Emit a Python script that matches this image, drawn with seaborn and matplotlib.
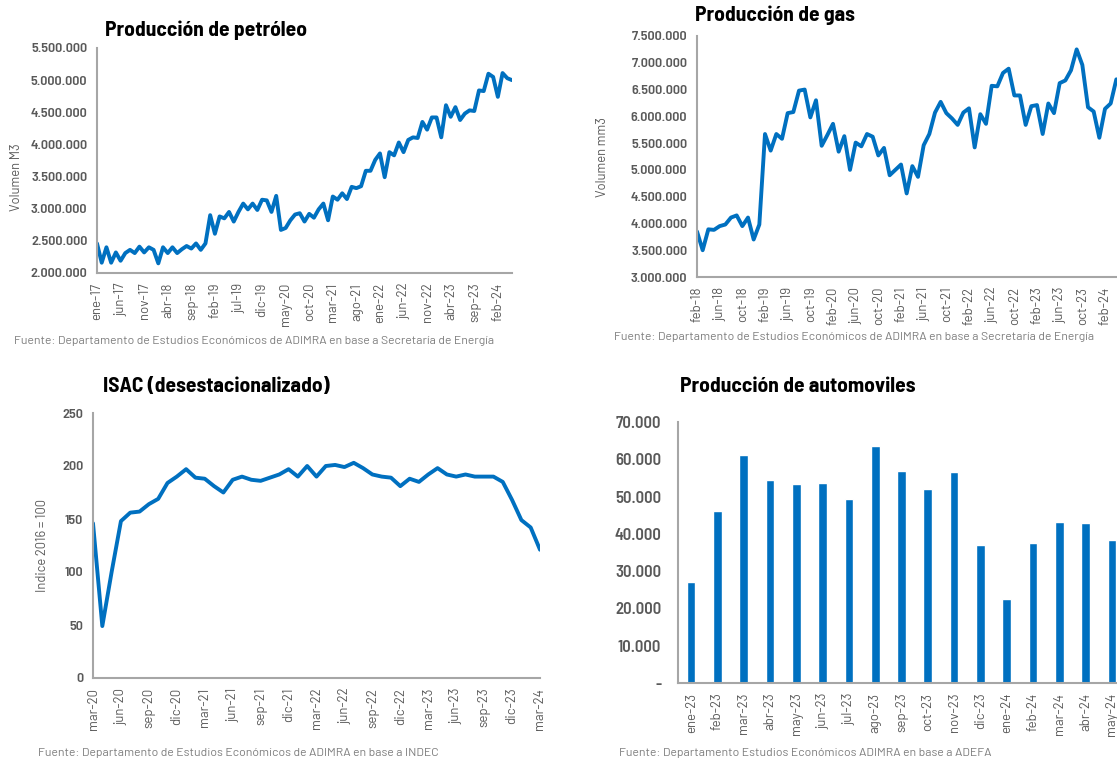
import matplotlib
matplotlib.use("Agg")
import matplotlib.pyplot as plt
import matplotlib.ticker as mticker
from matplotlib import font_manager
import seaborn as sns

# monthly series
oil_start = (2017, 1)
oil_values = [
    2460000, 2160000, 2400000, 2160000, 2320000, 2190000, 2310000, 2360000, 2310000, 2410000,
    2320000, 2400000, 2360000, 2150000, 2400000, 2310000, 2400000, 2310000, 2370000, 2420000,
    2380000, 2460000, 2360000, 2460000, 2900000, 2610000, 2880000, 2850000, 2950000, 2800000,
    2950000, 3080000, 2990000, 3080000, 2980000, 3140000, 3130000, 2950000, 3200000, 2670000,
    2700000, 2820000, 2910000, 2930000, 2800000, 2920000, 2860000, 2990000, 3080000, 2820000,
    3190000, 3140000, 3240000, 3150000, 3340000, 3320000, 3350000, 3590000, 3590000, 3760000,
    3860000, 3490000, 3880000, 3830000, 4030000, 3880000, 4070000, 4110000, 4100000, 4350000,
    4230000, 4420000, 4420000, 4110000, 4610000, 4430000, 4580000, 4380000, 4480000, 4530000,
    4520000, 4840000, 4830000, 5100000, 5050000, 4740000, 5110000, 5030000, 5000000,
]

gas_start = (2018, 2)
gas_values = [
    3850000, 3500000, 3890000, 3880000, 3950000, 3980000, 4110000, 4150000, 3950000, 4110000,
    3700000, 3980000, 5670000, 5360000, 5670000, 5580000, 6060000, 6080000, 6480000, 6500000,
    5980000, 6300000, 5450000, 5650000, 5860000, 5340000, 5630000, 5000000, 5510000, 5440000,
    5670000, 5620000, 5270000, 5410000, 4900000, 5000000, 5100000, 4560000, 5070000, 4870000,
    5460000, 5670000, 6070000, 6270000, 6060000, 5960000, 5840000, 6070000, 6150000, 5420000,
    6040000, 5860000, 6570000, 6560000, 6810000, 6890000, 6390000, 6390000, 5840000, 6190000,
    6210000, 5670000, 6240000, 6060000, 6620000, 6670000, 6860000, 7250000, 6960000, 6170000,
    6090000, 5600000, 6140000, 6240000, 6690000, 6680000,
]

isac_start = (2020, 3)
isac_values = [
    146, 49, 100, 148, 156, 157, 164, 169, 184, 190,
    197, 189, 188, 181, 175, 187, 190, 187, 186, 189,
    192, 197, 190, 200, 190, 200, 201, 199, 203, 198,
    192, 190, 189, 181, 188, 185, 192, 198, 192, 190,
    192, 190, 190, 190, 185, 168, 149, 142, 121,
]

auto_months = ["ene-23", "feb-23", "mar-23", "abr-23", "may-23", "jun-23", "jul-23", "ago-23",
               "sep-23", "oct-23", "nov-23", "dic-23", "ene-24", "feb-24", "mar-24", "abr-24",
               "may-24"]
auto_values = [27100, 46200, 61200, 54500, 53400, 53700, 49400, 63600,
               56800, 52100, 56600, 37100, 22600, 37500, 43200, 43000, 38400]

MESES = ["ene", "feb", "mar", "abr", "may", "jun", "jul", "ago", "sep", "oct", "nov", "dic"]


def month_names(start, n):
    year, month = start
    out = []
    for k in range(n):
        m = (month - 1 + k) % 12
        y = year + (month - 1 + k) // 12
        out.append(f"{MESES[m]}-{y % 100:02d}")
    return out


W, H = 1117, 760
BLUE = "#0070C0"
GREY = "#595959"
LIGHT = "#7F7F7F"
SPINE = "#A6A6A6"

sns.set_theme(style="white")
names = {f.name for f in font_manager.fontManager.ttflist}
NARROW = next((c for c in ["Barlow Semi Condensed", "Roboto Condensed", "Liberation Sans Narrow"]
               if c in names), "DejaVu Sans")
WIDE = "Barlow" if "Barlow" in names else NARROW
plt.rcParams["font.family"] = [NARROW, "DejaVu Sans"]

fig = plt.figure(figsize=(W / 100, H / 100), dpi=100)


def box(left, top, right, bottom):
    return [left / W, 1 - bottom / H, (right - left) / W, (bottom - top) / H]


def dots(v, _):
    return f"{v:,.0f}".replace(",", ".")


def dots_dash(v, _):
    return "-" if v == 0 else dots(v, _)


def style_axis(ax, ysize=10.2, ypad=7):
    sns.despine(ax=ax)
    for s in ("left", "bottom"):
        ax.spines[s].set_color(SPINE)
        ax.spines[s].set_linewidth(1.5)
    ax.tick_params(axis="both", length=0, colors=GREY)
    ax.tick_params(axis="y", pad=ypad)
    ax.tick_params(axis="x", pad=7)
    for lab in ax.get_yticklabels():
        lab.set_fontsize(ysize)
        lab.set_fontweight("semibold")
    for lab in ax.get_xticklabels():
        lab.set_fontsize(9.5)
        lab.set_family([WIDE, "DejaVu Sans"])
        lab.set_rotation(90)


def add_texts(title, title_xy, source, source_xy, ylabel=None, ylabel_xy=None):
    fig.text(title_xy[0] / W, 1 - title_xy[1] / H, title, fontsize=15.5, fontweight="bold",
             color="black", ha="left", va="center")
    fig.text(source_xy[0] / W, 1 - source_xy[1] / H, source, fontsize=8.8, color=LIGHT,
             ha="left", va="center", family=[WIDE, "DejaVu Sans"])
    if ylabel:
        fig.text(ylabel_xy[0] / W, 1 - ylabel_xy[1] / H, ylabel, fontsize=9.3, color=GREY,
                 rotation=90, ha="center", va="center", family=[WIDE, "DejaVu Sans"])


def line_panel(rect, start, values, step, ylim, yticks, xmax=None):
    ax = fig.add_axes(box(*rect))
    cats = month_names(start, len(values))
    idx = list(range(len(values)))
    sns.lineplot(x=idx, y=values, ax=ax, color=BLUE, linewidth=2.8)
    ax.set_xlim(0, xmax if xmax is not None else len(values) - 1)
    ax.set_ylim(*ylim)
    ax.set_yticks(yticks)
    ax.yaxis.set_major_formatter(mticker.FuncFormatter(dots))
    ax.set_xticks(idx[::step])
    ax.set_xticklabels(cats[::step])
    style_axis(ax)
    return ax


fuente_se = "Fuente: Departamento de Estudios Económicos de ADIMRA en base a Secretaría de Energía"

line_panel((97, 48, 512, 273), oil_start, oil_values, 5, (2000000, 5500000),
           range(2000000, 5500001, 500000))
add_texts("Producción de petróleo", (105, 30), fuente_se, (14, 341), "Volumen M3", (16, 177))

line_panel((697, 36, 1122, 277), gas_start, gas_values, 4, (3000000, 7500000),
           range(3000000, 7500001, 500000))
add_texts("Producción de gas", (695, 15), fuente_se, (614, 337), "Volumen mm3", (603, 157))

line_panel((93, 413, 540, 678), isac_start, isac_values, 3, (0, 250), range(0, 251, 50))
add_texts("ISAC (desestacionalizado)", (103, 387),
          "Fuente: Departamento de Estudios Económicos de ADIMRA en base a INDEC", (38, 753),
          "Indice 2016 = 100", (43, 545))

# bar panel
ax4 = fig.add_axes(box(678, 422, 1125, 683))
sns.barplot(x=auto_months, y=auto_values, ax=ax4, color=BLUE, width=0.33, saturation=1)
ax4.set_xlim(-0.5, len(auto_months) - 0.5)
ax4.set_ylim(0, 70000)
ax4.set_yticks(range(0, 70001, 10000))
ax4.yaxis.set_major_formatter(mticker.FuncFormatter(dots_dash))
style_axis(ax4, ysize=12, ypad=12)
add_texts("Producción de automoviles", (680, 387),
          "Fuente: Departamento Estudios Económicos ADIMRA en base a ADEFA", (619, 753))

fig.savefig("out.png", dpi=100)
